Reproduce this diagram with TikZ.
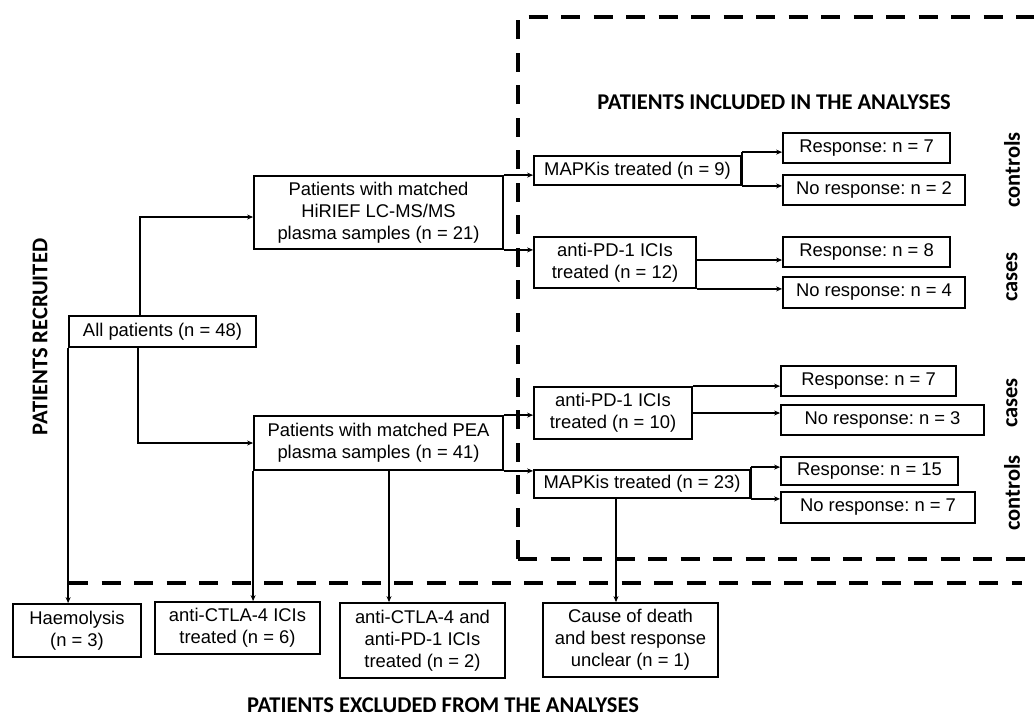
\documentclass[tikz,border=0pt]{standalone}
\usepackage{fontspec}
\setmainfont{Liberation Sans}
\newfontfamily\calibrifont{Carlito}
\usetikzlibrary{arrows.meta}
\frenchspacing
\begin{document}
\begin{tikzpicture}[x=1pt,y=-1pt,
  bx/.style={draw, line width=1.8pt, inner sep=0pt, align=center, font=\fontsize{18.4}{22}\selectfont},
  sz/.style 2 args={minimum width=#1pt, minimum height=#2pt},
  arr/.style={line width=1.6pt, -{Stealth[length=6pt,width=5pt]}},
  ln/.style={line width=1.6pt},
  dsh/.style={line width=3.7pt, dash pattern=on 19pt off 13.5pt},
  lab/.style={font=\calibrifont\bfseries\fontsize{22.5}{27}\selectfont, inner sep=0pt}]
\path[use as bounding box, fill=white] (0,0) rectangle (1034,724);

% dashed frames
\draw[dsh] (518,559) -- (518,17) -- (1034,17);
\draw[dsh] (518,559) -- (1034,559);
\draw[dsh] (69,583) -- (1022,583);

% labels
\node[lab] (inc) at (774,102) {PATIENTS INCLUDED IN THE ANALYSES};
\node[lab] (exc) at (443,705) {PATIENTS EXCLUDED FROM THE ANALYSES};
\node[lab, rotate=90] (rec) at (40,337) {PATIENTS RECRUITED};
\node[lab, rotate=90] (c1) at (1012,170) {controls};
\node[lab, rotate=90] (c2) at (1012,277) {cases};
\node[lab, rotate=90] (c3) at (1012,403) {cases};
\node[lab, rotate=90] (c4) at (1012,493) {controls};

% boxes
\node[bx, sz={187}{31}] (all) at (162.5,331.5) {All patients (n = 48)};
\node[bx, sz={249}{73}] (hir) at (378.5,212.5) {Patients with matched\\HiRIEF LC-MS/MS\\plasma samples (n = 21)};
\node[bx, sz={249}{54}] (pea) at (378.5,443) {Patients with matched PEA\\plasma samples (n = 41)};
\node[bx, sz={207}{29}] (map9) at (637.5,170.5) {MAPKis treated (n = 9)};
\node[bx, sz={167}{30}] (r7a) at (866.5,148) {Response: n = 7};
\node[bx, sz={182}{30}] (nr2) at (874,190) {No response: n = 2};
\node[bx, sz={162}{51}] (pd12) at (615,262.5) {anti-PD-1 ICIs\\treated (n = 12)};
\node[bx, sz={167}{30}] (r8) at (866.5,252) {Response: n = 8};
\node[bx, sz={182}{31}] (nr4) at (874,292.5) {No response: n = 4};
\node[bx, sz={158}{52}] (pd10) at (613,413) {anti-PD-1 ICIs\\treated (n = 10)};
\node[bx, sz={175}{30}] (r7b) at (868.5,381) {Response: n = 7};
\node[bx, sz={203}{30}] (nr3) at (882.5,420) {No response: n = 3};
\node[bx, sz={216}{28}] (map23) at (642,484) {MAPKis treated (n = 23)};
\node[bx, sz={177}{28}] (r15) at (869.5,471) {Response: n = 15};
\node[bx, sz={194}{31}] (nr7) at (878,507.5) {No response: n = 7};
\node[bx, sz={128}{53}] (haem) at (77,630.5) {Haemolysis\\(n = 3)};
\node[bx, sz={165}{52}] (ctla) at (237.5,628) {anti-CTLA-4 ICIs\\treated (n = 6)};
\node[bx, sz={165}{75}] (ctlapd) at (422.5,640.5) {anti-CTLA-4 and\\anti-PD-1 ICIs\\treated (n = 2)};
\node[bx, sz={175}{74}] (cause) at (630.5,640) {Cause of death\\and best response\\unclear (n = 1)};

% helper coordinates
\coordinate (allt) at ([xshift=-22.5pt]all.north);
\coordinate (allb) at ([xshift=-24.5pt]all.south);
\coordinate (hirin) at ([yshift=-4.5pt]hir.west);
\coordinate (m9t) at ([yshift=3pt]map9.north east);
\coordinate (p12r) at ([yshift=2.5pt]pd12.east);
\coordinate (m23t) at ([yshift=2pt]map23.north east);
\coordinate (m23b) at ([xshift=-26pt]map23.south);
\coordinate (peab) at ([xshift=10.5pt]pea.south);

% connectors
\draw[arr] (allt) |- (hirin);
\draw[arr] (allb) |- (pea.west);
\draw[arr] (all.south west) -- (all.south west |- haem.north);
\draw[arr] (hir.north east) -- (hir.north east -| map9.west);
\draw[arr] (hir.south east) -- (hir.south east -| pd12.west);
\draw[ln] (map9.south east) -- (m9t);
\draw[arr] (m9t) -- (m9t -| r7a.west);
\draw[arr] (map9.south east) -- (map9.south east -| nr2.west);
\draw[arr] (p12r) -- (p12r -| r8.west);
\draw[arr] (pd12.south east) -- (pd12.south east -| nr4.west);
\draw[arr] (pea.north east) -- (pea.north east -| pd10.west);
\draw[arr] (pea.south east) -- (pea.south east -| map23.west);
\draw[arr] (pd10.north east) -- (pd10.north east -| r7b.west);
\draw[arr] (pd10.east) -- (pd10.east -| nr3.west);
\draw[ln] (map23.south east) -- (m23t);
\draw[arr] (m23t) -- (m23t -| r15.west);
\draw[arr] (map23.south east) -- (map23.south east -| nr7.west);
\draw[arr] (m23b) -- (m23b |- cause.north);
\draw[arr] (pea.south west) -- (pea.south west |- ctla.north);
\draw[arr] (peab) -- (peab |- ctlapd.north);
\end{tikzpicture}
\end{document}
